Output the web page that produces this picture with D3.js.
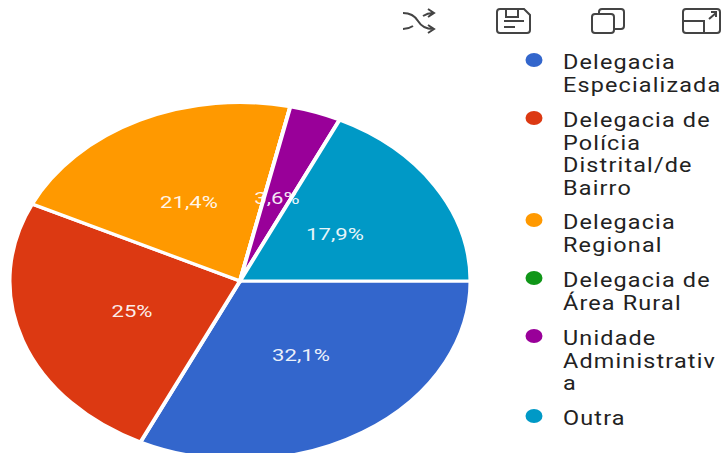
<!DOCTYPE html>
<html><head><meta charset="utf-8">
<script src="https://cdn.jsdelivr.net/npm/d3@7"></script>
<style>html,body{margin:0;padding:0;background:#fff}svg{display:block}text{font-family:Roboto,sans-serif}</style>
</head><body><svg id="c" width="725" height="453"></svg>
<script>
const categories=["Delegacia Especializada","Delegacia de Polícia Distrital/de Bairro","Delegacia Regional","Delegacia de Área Rural","Unidade Administrativa","Outra"];
const values=[32.1,25,21.4,0,3.6,17.9];
const pctLabels=["32,1%","25%","21,4%","","3,6%","17,9%"];
const colors=["#3366cc","#dc3912","#ff9900","#109618","#990099","#0099c6"];
const legendLines=[["Delegacia","Especializada"],["Delegacia de","Polícia","Distrital/de","Bairro"],["Delegacia","Regional"],["Delegacia de","Área Rural"],["Unidade","Administrativ","a"],["Outra"]];
const legendTops=[62,120,222,280,338,418];
const svg=d3.select("#c");
const cx=240,cy=281,rx=230.5,ry=178.5;
const g=svg.append("g").attr("transform",`translate(${cx},${cy}) scale(1,${ry/rx})`);
const pie=d3.pie().sort(null).startAngle(Math.PI/2).endAngle(Math.PI/2+2*Math.PI).value(d=>d);
const arcs=pie(values);
const arc=d3.arc().innerRadius(0).outerRadius(rx);
g.selectAll("path").data(arcs).join("path").attr("d",arc).attr("fill",(d,i)=>colors[i]).attr("stroke","#fff").attr("stroke-width",4);
const labelPos=[[301,355],[132,311],[189,202],null,[277,198],[335,234]];
svg.selectAll("text.p").data(pctLabels).join("text").attr("class","p")
 .attr("transform",(d,i)=>labelPos[i]?`translate(${labelPos[i][0]},${labelPos[i][1]}) scale(1.3,1)`:null)
 .attr("dy","0.35em").attr("text-anchor","middle").attr("fill","#fff").attr("fill-opacity",0.92).attr("font-size",17).text(d=>d);
const lg=svg.append("g");
categories.forEach((c,i)=>{
 lg.append("ellipse").attr("cx",534).attr("cy",legendTops[i]-2).attr("rx",8.5).attr("ry",7).attr("fill",colors[i]);
 legendLines[i].forEach((t,j)=>{
  lg.append("text").attr("transform",`translate(563,${legendTops[i]+j*22.5}) scale(1.17,1)`).attr("dy","0.35em").attr("font-size",20).attr("letter-spacing",1).attr("fill","#222").text(t);
 });
});
const ic=svg.append("g").attr("fill","none").attr("stroke","#444").attr("stroke-width",2);
ic.append("path").attr("d","M403 13c8 0 12 3 15 8s7 8 15 8M403 29c4 0 7-1 10-3M423 16c3-2 6-3 10-3M428 9l6 4-6 4M428 25l6 4-6 4");
ic.append("path").attr("d","M500 9h24l6 6v15a3 3 0 0 1-3 3h-27a3 3 0 0 1-3-3v-18a3 3 0 0 1 3-3zM506 9v8h12v-8M504 21h20M504 27h11");
ic.append("path").attr("d","M595 14h16a3 3 0 0 1 3 3v13a3 3 0 0 1-3 3h-16a3 3 0 0 1-3-3v-13a3 3 0 0 1 3-3zM599 14v-2a3 3 0 0 1 3-3h19a3 3 0 0 1 3 3v14a3 3 0 0 1-3 3h-7");
ic.append("path").attr("d","M686 9h31a3 3 0 0 1 3 3v18a3 3 0 0 1-3 3h-31a3 3 0 0 1-3-3v-18a3 3 0 0 1 3-3zM683 21h21v12M709 19l7-6M711 12h5v5");
</script></body></html>
